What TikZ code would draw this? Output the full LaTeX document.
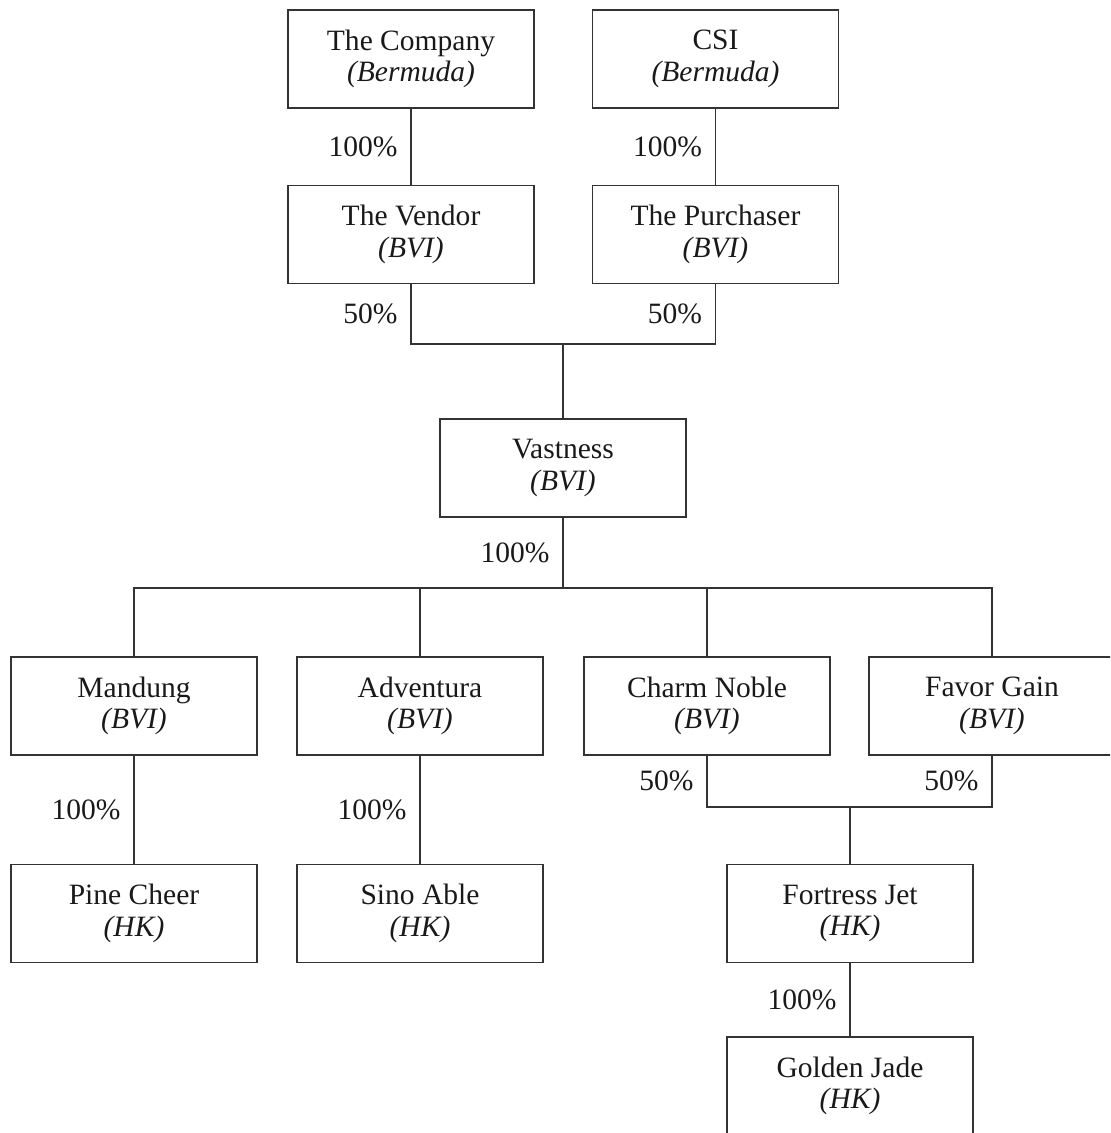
\documentclass[tikz,border=0pt]{standalone}
\usepackage{fontspec}
\setmainfont{Liberation Serif}
\usetikzlibrary{positioning}

\tikzset{
    entity/.style={draw=black!80, rectangle, line width=0.5pt, minimum width=3.075cm, minimum height=1.225cm,
        align=center, inner sep=0pt, font=\fontsize{10.5}{11.2}\selectfont, text=black!90},
    pct/.style={left=1.6mm, inner sep=0pt, font=\fontsize{10.5}{12}\selectfont, text=black!90},
    link/.style={draw=black!80, line width=0.5pt}
}

\begin{document}
\begin{tikzpicture}[x=0.0125cm, y=-0.0125cm]
            \pgfmathsetmacro{\firstCol}{134}
            \pgfmathsetmacro{\secondCol}{420}
            \pgfmathsetmacro{\thirdCol}{707}
            \pgfmathsetmacro{\fourthCol}{992}
            \pgfmathsetmacro{\leftTop}{411}
            \pgfmathsetmacro{\rightTop}{715.5}
            \pgfmathsetmacro{\midCol}{563}
            \pgfmathsetmacro{\jetCol}{850}

            \useasboundingbox (0,0) rectangle (1110,1133);
            \clip (0,0) rectangle (1110,1133);

            % shareholders on top
            \node[entity] (company) at (\leftTop, 59) {The Company\\\textit{(Bermuda)}};
            \node[entity] (csi) at (\rightTop, 59) {CSI\\\textit{(Bermuda)}};
            \node[entity] (vendor) at (\leftTop, 234.5) {The Vendor\\\textit{(BVI)}};
            \node[entity] (purchaser) at (\rightTop, 234.5) {The Purchaser\\\textit{(BVI)}};

            % the joint company
            \node[entity] (vastness) at (\midCol, 468) {Vastness\\\textit{(BVI)}};

            % its four subsidiaries
            \node[entity] (mandung) at (\firstCol, 706) {Mandung\\\textit{(BVI)}};
            \node[entity] (adventura) at (\secondCol, 706) {Adventura\\\textit{(BVI)}};
            \node[entity] (charm) at (\thirdCol, 706) {Charm Noble\\\textit{(BVI)}};
            \node[entity] (favor) at (\fourthCol, 706) {Favor Gain\\\textit{(BVI)}};

            % Hong Kong companies
            \node[entity] (pine) at (\firstCol, 913.5) {Pine Cheer\\\textit{(HK)}};
            \node[entity] (sino) at (\secondCol, 913.5) {Sino Able\\\textit{(HK)}};
            \node[entity] (fortress) at (\jetCol, 913.5) {Fortress Jet\\\textit{(HK)}};
            \node[entity] (golden) at (\jetCol, 1086) {Golden Jade\\\textit{(HK)}};

            % points where the lines meet
            \coordinate (topjoin) at (\midCol, 344);
            \coordinate (midjoin) at (\midCol, 588);
            \coordinate (lowjoin) at (\jetCol, 807);

            \draw[link] (company) -- node[pct] {100\%} (vendor);
            \draw[link] (csi) -- node[pct] {100\%} (purchaser);

            \draw[link] (vendor.south) -- node[pct] {50\%} (vendor.south |- topjoin)
                -- (purchaser.south |- topjoin) -- node[pct] {50\%} (purchaser.south);
            \draw[link] (topjoin) -- (vastness);

            \draw[link] (vastness) -- node[pct] {100\%} (midjoin);
            \draw[link] (mandung.north) |- (favor.north |- midjoin) -- (favor.north);
            \foreach \n in {adventura, charm}
            \draw[link] (\n.north) -- (\n.north |- midjoin);

            % one level down
            \foreach \a/\b in {mandung/pine, adventura/sino}
            \draw[link] (\a) -- node[pct] {100\%} (\b);

            \draw[link] (charm.south) -- node[pct] {50\%} (charm.south |- lowjoin)
                -- (favor.south |- lowjoin) -- node[pct] {50\%} (favor.south);
            \draw[link] (lowjoin) -- (fortress);
            \draw[link] (fortress) -- node[pct] {100\%} (golden);

\end{tikzpicture}
\end{document}
